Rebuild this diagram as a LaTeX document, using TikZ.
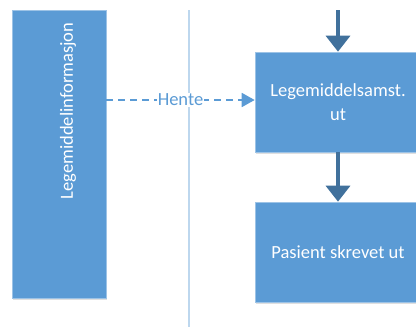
\documentclass[tikz,border=0pt]{standalone}
\usepackage{fontspec}
\setmainfont{Carlito}
\usetikzlibrary{arrows.meta,shadows}
\definecolor{boxblue}{HTML}{5B9BD5}
\definecolor{boxedge}{HTML}{9DC3E6}
\definecolor{flowblue}{HTML}{41719C}
\definecolor{laneblue}{HTML}{BDD7EE}
\tikzset{
  stepbox/.style={rectangle, fill=boxblue, draw=boxedge, line width=0.6pt,
    text=white, font=\fontsize{18.5}{24}\selectfont, align=center,
    inner sep=0pt, drop shadow={shadow xshift=1pt, shadow yshift=-1.5pt, opacity=0.25}},
  flow/.style={draw=flowblue, line width=3.5pt,
    -{Triangle[width=24pt,length=16pt]}, shorten >=0pt},
  fetch/.style={draw=boxblue, line width=1.8pt, dash pattern=on 7pt off 5pt,
    -{Triangle[width=14pt,length=13pt]}},
}
\begin{document}
\begin{tikzpicture}[x=1pt,y=-1pt]
  \useasboundingbox (0,0) rectangle (416,327);
  \begin{scope}
    \clip (0,0) rectangle (416,327);
    % lane divider
    \draw[laneblue, line width=1.5pt] (189,10) coordinate (laneTop) -- (189,327) coordinate (laneBot);
    % source column
    \node[stepbox, minimum width=94pt, minimum height=288pt] (info) at (59,154) {};
    \node[text=white, font=\fontsize{18.5}{22}\selectfont, rotate=90] (infotext) at (68,111) {Legemiddelinformasjon};
    % process steps
    \node[stepbox, minimum width=166pt, minimum height=100pt] (samst) at (338,102) {Legemiddelsamst.\\ut};
    \node[stepbox, minimum width=166pt, minimum height=100pt] (ut) at (338,252) {Pasient skrevet ut};
    % flow arrows
    \coordinate (inflow) at (338,10);
    \draw[flow] (inflow) -- (samst.north);
    \draw[flow] (samst.south) -- (ut.north);
    % information fetch
    \draw[fetch] (info.east |- 0,100) -- node[fill=white, inner sep=1pt, text=boxblue, font=\fontsize{18.5}{22}\selectfont] (hente) {Hente} (samst.west |- 0,100);
  \end{scope}
\end{tikzpicture}
\end{document}
